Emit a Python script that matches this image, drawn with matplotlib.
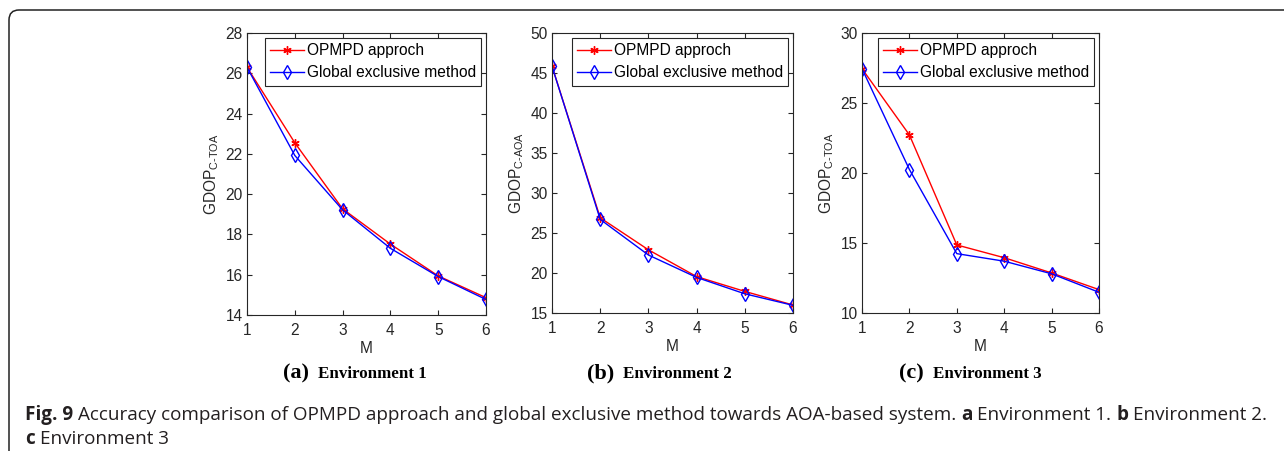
import matplotlib
matplotlib.use("Agg")
import matplotlib.pyplot as plt
from matplotlib.patches import FancyBboxPatch

# ---- data ----
M = [1, 2, 3, 4, 5, 6]
env1_opmpd = [26.30, 22.55, 19.27, 17.52, 15.94, 14.86]
env1_global = [26.30, 21.92, 19.22, 17.31, 15.91, 14.77]
env2_opmpd = [45.85, 26.90, 22.90, 19.55, 17.70, 16.00]
env2_global = [45.85, 26.70, 22.25, 19.45, 17.40, 15.96]
env3_opmpd = [27.45, 22.72, 14.86, 13.95, 12.86, 11.67]
env3_global = [27.45, 20.25, 14.24, 13.70, 12.80, 11.48]

series_names = ["OPMPD approch", "Global exclusive method"]
ylabels = [r"GDOP$_{\text{C-TOA}}$", r"GDOP$_{\text{C-AOA}}$", r"GDOP$_{\text{C-TOA}}$"]
ylims = [(14, 28), (15, 50), (10, 30)]
yticks = [[14, 16, 18, 20, 22, 24, 26, 28], [15, 20, 25, 30, 35, 40, 45, 50], [10, 15, 20, 25, 30]]
panel_tags = ["(a)", "(b)", "(c)"]
panel_names = ["Environment 1", "Environment 2", "Environment 3"]

caption_line1 = [("Fig. 9", "bold"),
                 (" Accuracy comparison of OPMPD approach and global exclusive method towards AOA-based system. ", "normal"),
                 ("a", "bold"), (" Environment 1. ", "normal"), ("b", "bold"), (" Environment 2.", "normal")]
caption_line2 = [("c", "bold"), (" Environment 3", "normal")]

# ---- style ----
plt.rcParams["font.family"] = ["Liberation Sans", "DejaVu Sans"]
plt.rcParams["mathtext.fontset"] = "custom"
plt.rcParams["mathtext.rm"] = "Liberation Sans"
plt.rcParams["mathtext.it"] = "Liberation Sans:italic"
plt.rcParams["mathtext.bf"] = "Liberation Sans:bold"

W, H = 1284, 451
fig = plt.figure(figsize=(W / 100, H / 100), dpi=100)

axc = "#262626"
fs = 11.2
boxes = [(247, 486, 33, 315), (552, 793, 33, 313), (862, 1099, 33, 313)]
data = [(env1_opmpd, env1_global), (env2_opmpd, env2_global), (env3_opmpd, env3_global)]

for i, (x0, x1, yt, yb) in enumerate(boxes):
    ax = fig.add_axes([x0 / W, 1 - yb / H, (x1 - x0) / W, (yb - yt) / H])
    op, gl = data[i]
    ax.plot(M, op, color="red", lw=1.0, marker=(6, 2, 0), ms=6, mew=1.0, label=series_names[0])
    ax.plot(M, gl, color="blue", lw=1.0, marker="d", ms=7, mfc="none", mew=1.0, label=series_names[1])
    ax.set_xlim(1, 6)
    ax.set_ylim(*ylims[i])
    ax.set_xticks(M)
    ax.set_yticks(yticks[i])
    ax.tick_params(direction="in", top=True, right=True, length=3.5, width=0.8,
                   labelsize=fs, colors=axc)
    ax.tick_params(axis="x", pad=6)
    ax.tick_params(axis="y", pad=3)
    for sp in ax.spines.values():
        sp.set_color(axc)
        sp.set_linewidth(0.8)
    ax.set_xlabel("M", fontsize=fs, color=axc, labelpad=2)
    ax.set_ylabel(ylabels[i], fontsize=fs, color=axc, labelpad=3)
    leg = ax.legend(loc="upper right", fontsize=fs, fancybox=False, framealpha=1,
                    edgecolor=axc, borderaxespad=0.3, handlelength=2.2, handletextpad=0.15,
                    borderpad=0.35, labelspacing=0.45)
    leg.get_frame().set_linewidth(0.8)
    # panel label
    fig.text((x0 + 62) / W, 1 - 378 / H, panel_tags[i], ha="right", va="baseline",
             family="Liberation Serif", weight="bold", fontsize=16, color="black")
    fig.text((x0 + 71) / W, 1 - 378 / H, panel_names[i], ha="left", va="baseline",
             family="Liberation Serif", weight="bold", fontsize=12.2, color="black")

# ---- border (rounded top-left corner) ----
border = FancyBboxPatch((0.09, -0.5), 13.5, (H - 10) / 100 + 0.5,
                        boxstyle="round,pad=0,rounding_size=0.1",
                        transform=fig.dpi_scale_trans, fill=False,
                        edgecolor="#222222", linewidth=1.1, clip_on=False)
fig.patches.append(border)

# ---- caption ----
cap_font = "Open Sans"

fig.canvas.draw()
renderer = fig.canvas.get_renderer()


def width_of(s, weight, size):
    t = fig.text(0, 0, s.replace(" ", "\u00a0"), family=cap_font, weight=weight, fontsize=size)
    w = t.get_window_extent(renderer).width
    t.remove()
    return w


def space_w(weight, size):
    return width_of("x x", weight, size) - width_of("xx", weight, size)


def draw_line(pieces, x_start, y_base, size):
    x = x_start
    for s, wt in pieces:
        lead = len(s) - len(s.lstrip(" "))
        trail = len(s) - len(s.rstrip(" "))
        core = s.strip(" ")
        sw = space_w(wt, size)
        x += lead * sw
        t = fig.text(x / W, 1 - y_base / H, core, family=cap_font, weight=wt,
                     fontsize=size, color="#231f20", ha="left", va="baseline")
        x += t.get_window_extent(renderer).width
        x += trail * sw
    return x


# fit caption size to the reference width (line 1 from x=25 to ~1259)
size = 12.0
total = sum(width_of(s, w, size) for s, w in caption_line1)
size = size * (1234 / total)
draw_line(caption_line1, 25, 420, size)
draw_line(caption_line2, 25, 444, size)

fig.savefig("out.png", dpi=100)
